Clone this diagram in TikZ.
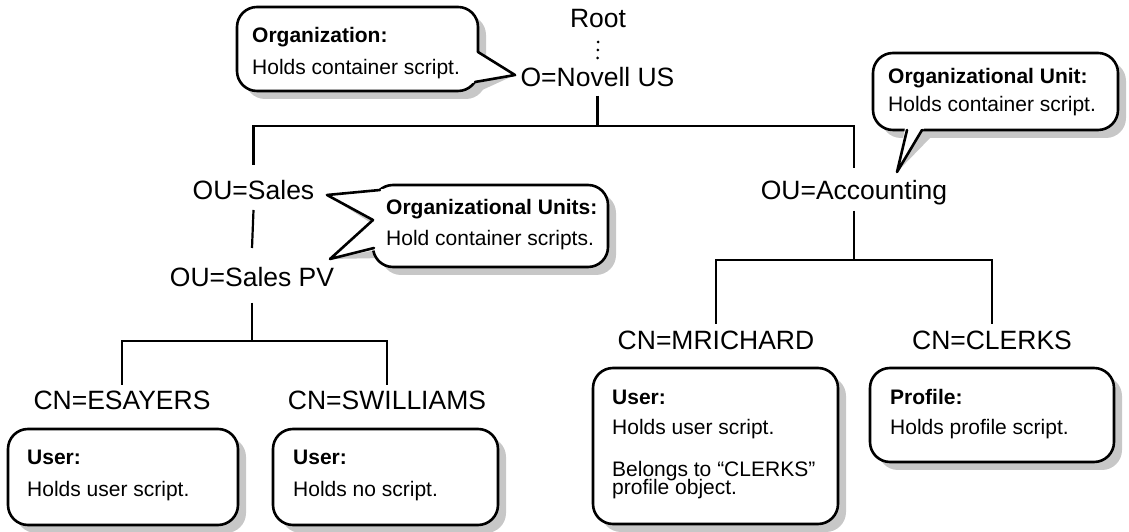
\documentclass[tikz,border=0pt]{standalone}
\usepackage{fontspec}
\setmainfont{Liberation Sans}
\usetikzlibrary{shadows}
\begin{document}
\begin{tikzpicture}[x=1pt,y=1pt,
  lbl/.style={font=\fontsize{26.5}{30}\selectfont, inner sep=0pt, anchor=base},
  txt/.style={font=\fontsize{21}{25}\selectfont, inner sep=0pt, anchor=base west},
  btxt/.style={font=\fontsize{21}{25}\selectfont\bfseries, inner sep=0pt, anchor=base west},
  tree/.style={line width=2.2pt},
  infobox/.style={draw, line width=2.6pt, rounded corners=20pt, fill=white, inner sep=0pt,
     drop shadow={shadow xshift=8pt, shadow yshift=-8pt, fill=black!22, opacity=1}},
  tailshadow/.style={fill=black!22},
  tailfill/.style={fill=white},
  tailline/.style={line width=2.6pt, line join=round, line cap=round},
]
\useasboundingbox (0,0) rectangle (1129,532);

% ---------- tree labels ----------
\node[lbl] (root) at (598,504) {Root};
\node[lbl] (novell) at (597.5,445) {O=Novell US};
\node[lbl] (sales) at (253.5,332) {OU=Sales};
\node[lbl] (acct) at (854,332) {OU=Accounting};
\node[lbl] (salespv) at (252,245) {OU=Sales PV};
\node[lbl] (esayers) at (122,122) {CN=ESAYERS};
\node[lbl] (swilliams) at (387,122) {CN=SWILLIAMS};
\node[lbl] (mrichard) at (716,182) {CN=MRICHARD};
\node[lbl] (clerks) at (992,182) {CN=CLERKS};

% ---------- tree connectors ----------
\draw[line width=3pt, line cap=round, dash pattern=on 0pt off 8pt]
  ([yshift=-14pt]root.base) -- ([yshift=27pt]novell.base);
\draw[tree] ([yshift=-9pt]novell.base) -- ++(0,-30) -| ([yshift=35pt]sales.base);
\draw[tree] ([yshift=-9pt]novell.base) -- ++(0,-30) -| ([yshift=32pt]acct.base);
\draw[tree] ([yshift=-10pt]sales.base) -- ([yshift=39pt]salespv.base);
\draw[tree] ([yshift=-16pt]salespv.base) -- ++(0,-38) -| ([yshift=25pt]esayers.base);
\draw[tree] ([yshift=-16pt]salespv.base) -- ++(0,-38) -| ([yshift=25pt]swilliams.base);
\draw[tree] ([yshift=-11pt]acct.base) -- ++(0,-49) -| ([yshift=26pt]mrichard.base);
\draw[tree] ([yshift=-11pt]acct.base) -- ++(0,-49) -| ([yshift=26pt]clerks.base);

% ---------- Organization callout ----------
\coordinate (orgtip) at (515,457);
\fill[tailshadow, shift={(8,-8)}] (474,481) -- (orgtip) -- (472,449) -- cycle;
\node[infobox, minimum width=241pt, minimum height=84pt] (orgbox) at (357.5,483) {};
\fill[tailfill] (474,481) -- (orgtip) -- (472,449) -- cycle;
\draw[tailline] (478,480) -- (orgtip) -- (475,450);
\node[btxt] (orgt1) at (252,489) {Organization:};
\node[txt] (orgt2) at (252,457) {Holds container script.};

% ---------- Organizational Unit callout ----------
\coordinate (outip) at (897,360);
\fill[tailshadow, shift={(8,-8)}] (905,404) -- (outip) -- (924,404) -- cycle;
\node[infobox, minimum width=245pt, minimum height=77pt] (oubox) at (995.5,440.5) {};
\fill[tailfill] (905,404) -- (outip) -- (924,404) -- cycle;
\draw[tailline] (907,402) -- (outip) -- (922,402);
\node[btxt] (out1) at (888,448) {Organizational Unit:};
\node[txt] (out2) at (888,420) {Holds container script.};

% ---------- Organizational Units callout ----------
\coordinate (oustipa) at (327,337);
\coordinate (oustipb) at (330,273);
\fill[tailshadow, shift={(8,-8)}] (383,343) -- (oustipa) -- (371,312) -- (oustipb) -- (376,282) -- (385,282) -- (385,343) -- cycle;
\node[infobox, minimum width=235pt, minimum height=82pt] (ousbox) at (490.5,306) {};
\fill[tailfill] (383,343) -- (oustipa) -- (371,312) -- (oustipb) -- (376,282) -- (385,282) -- (385,343) -- cycle;
\draw[tailline] (380,342) -- (oustipa) -- (373,312) -- (oustipb) -- (374,284);
\node[btxt] (oust1) at (386,317) {Organizational Units:};
\node[txt] (oust2) at (386,286) {Hold container scripts.};

% ---------- bottom boxes ----------
\node[infobox, minimum width=230pt, minimum height=96pt] (esbox) at (123,55) {};
\node[btxt] (est1) at (27,67) {User:};
\node[txt] (est2) at (27,35) {Holds user script.};

\node[infobox, minimum width=225pt, minimum height=96pt] (swbox) at (385.5,55) {};
\node[btxt] (swt1) at (293,67) {User:};
\node[txt] (swt2) at (293,35) {Holds no script.};

\node[infobox, minimum width=245pt, minimum height=156pt] (mrbox) at (715.5,86) {};
\node[btxt] (mrt1) at (612,127) {User:};
\node[txt] (mrt2) at (612,97) {Holds user script.};
\node[txt] (mrt3) at (612,55) {Belongs to “CLERKS”};
\node[txt] (mrt4) at (612,37) {profile object.};

\node[infobox, minimum width=244pt, minimum height=94pt] (clbox) at (992,117) {};
\node[btxt] (clt1) at (890,127) {Profile:};
\node[txt] (clt2) at (890,97) {Holds profile script.};
\end{tikzpicture}
\end{document}
